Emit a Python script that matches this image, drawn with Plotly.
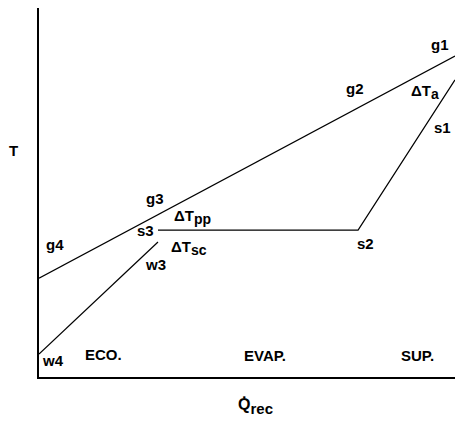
import plotly.graph_objects as go

# Heat recovered (normalised, 0-100) and temperature (normalised, 0-100)
gas_q = [0.0, 100.0]
gas_t = [26.8, 87.0]

# Water/steam side: economiser (w4 -> w3), then evaporator (s3 -> s2), superheater (s2 -> s1)
eco_q = [0.0, 28.6]
eco_t = [6.2, 36.6]
steam_q = [28.6, 76.7, 100.0]
steam_t = [39.8, 39.8, 80.5]


def sub(s, size=14):
    return "<sub><span style='font-size:%dpx'>%s</span></sub>" % (size, s)


# State-point and interval labels
point_labels = ["g1", "g2", "\u0394T" + sub("a"), "s1", "g3", "\u0394T" + sub("pp"), "s3",
                "\u0394T" + sub("sc"), "w3", "g4", "s2", "w4"]
point_q = [96.4, 76.0, 92.8, 96.9, 27.9, 36.8, 25.5, 36.0, 27.9, 3.8, 78.6, 3.4]
point_t = [90.0, 78.3, 77.3, 67.5, 48.5, 43.3, 39.8, 35.0, 30.6, 36.0, 36.3, 4.6]

section_labels = ["ECO.", "EVAP.", "SUP."]
section_q = [15.6, 54.3, 91.1]
section_t = [6.0, 5.7, 5.7]

font = dict(family="Liberation Sans, Arial, sans-serif", size=15, color="black", weight="bold")
line = dict(color="black", width=1.2)

fig = go.Figure()
fig.add_trace(go.Scatter(x=gas_q, y=gas_t, mode="lines", line=line, hoverinfo="skip"))
fig.add_trace(go.Scatter(x=eco_q, y=eco_t, mode="lines", line=line, hoverinfo="skip"))
fig.add_trace(go.Scatter(x=steam_q, y=steam_t, mode="lines", line=line, hoverinfo="skip"))

annotations = []
for txt, q, t in zip(point_labels + section_labels, point_q + section_q, point_t + section_t):
    annotations.append(dict(x=q, y=t, xref="x", yref="y", text=txt, showarrow=False,
                            font=font, xanchor="center", yanchor="middle"))

# Axis names
annotations.append(dict(x=-0.0625, y=0.615, xref="paper", yref="paper", text="T",
                        showarrow=False, font=font, xanchor="center", yanchor="middle"))
annotations.append(dict(x=0.52, y=-0.08, xref="paper", yref="paper",
                        text="Q\u0307" + sub("rec", 15), showarrow=False,
                        font=dict(font, size=16), xanchor="center", yanchor="middle"))

fig.update_layout(
    width=455, height=422,
    margin=dict(l=39, r=0, t=8, b=45),
    paper_bgcolor="white", plot_bgcolor="white",
    showlegend=False,
    annotations=annotations,
    xaxis=dict(range=[0, 100], showgrid=False, zeroline=False, showticklabels=False,
               ticks="", showline=True, linecolor="black", linewidth=1.6, fixedrange=True),
    yaxis=dict(range=[0, 100], showgrid=False, zeroline=False, showticklabels=False,
               ticks="", showline=True, linecolor="black", linewidth=1.6, fixedrange=True),
)

fig.write_html("out.html", config={"displayModeBar": False})
